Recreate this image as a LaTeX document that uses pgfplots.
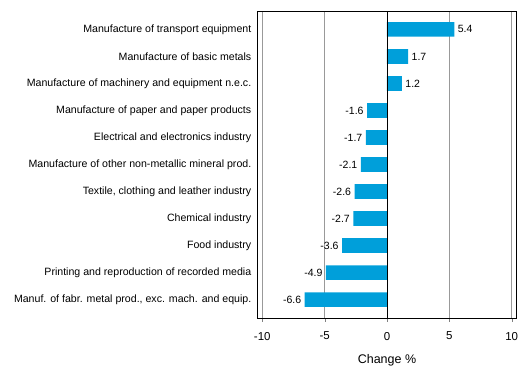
\documentclass[border=0pt]{standalone}
\usepackage{pgfplots}
\pgfplotsset{compat=1.18}
\usepackage{fontspec}
\setmainfont{Liberation Sans}
\definecolor{barblue}{RGB}{0,159,218}
\begin{document}
\begin{tikzpicture}
\begin{axis}[
  at={(0,0)}, anchor=south west,
  scale only axis, width=259.4bp, height=307bp,
  xbar, bar width=14.7bp, bar shift=0pt,
  xmin=-10.4, xmax=10.4, ymin=-0.68, ymax=10.68,
  y dir=reverse,
  ytick={0,...,10},
  yticklabels={Manufacture of transport equipment,Manufacture of basic metals,Manufacture of machinery and equipment n.e.c.,Manufacture of paper and paper products,Electrical and electronics industry,Manufacture of other non-metallic mineral prod.,{Textile, clothing and leather industry},Chemical industry,Food industry,Printing and reproduction of recorded media,{Manuf. of fabr. metal prod., exc. mach. and equip.}},
  y tick label style={font=\fontsize{10.6bp}{12bp}\selectfont, xshift=1bp},
  major y tick style={draw=none},
  xtick={-10,-5,0,5,10},
  x tick label style={font=\fontsize{11.5bp}{13bp}\selectfont, yshift=-7bp},
  xtick align=outside, major tick length=3.5bp,
  xtick pos=bottom,
  xmajorgrids, grid style={gray!80, line width=0.6pt},
  xlabel={Change \%}, xlabel style={font=\fontsize{12.5bp}{14bp}\selectfont, yshift=-7bp},
  /pgf/number format/assume math mode=true,
  /pgf/number format/fixed, /pgf/number format/precision=1,
  axis line style={line width=0.8pt},
  nodes near coords, point meta=x,
  nodes near coords style={font=\fontsize{10.5bp}{12bp}\selectfont, /pgf/number format/fixed zerofill, /pgf/number format/precision=1},
]
\addplot[fill=barblue, draw=none, nodes near coords align={right}] coordinates {(5.4,0) (1.7,1) (1.2,2)};
\addplot[fill=barblue, draw=none, nodes near coords align={left}] coordinates {(-1.6,3) (-1.7,4) (-2.1,5) (-2.6,6) (-2.7,7) (-3.6,8) (-4.9,9) (-6.6,10)};
\draw[black, line width=0.8pt] (axis cs:0,-0.68) -- (axis cs:0,10.68);
\end{axis}
\pgfresetboundingbox
\useasboundingbox (-257.3bp,-59bp) rectangle (271.7bp,318bp);
\end{tikzpicture}
\end{document}
